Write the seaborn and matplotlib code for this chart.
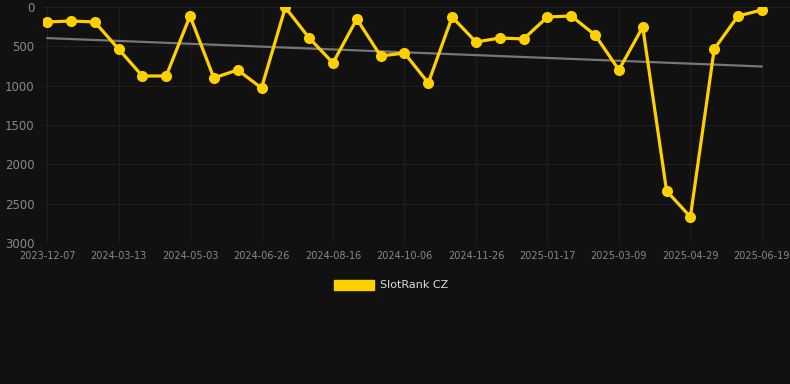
import numpy as np
import pandas as pd
import matplotlib
matplotlib.use("Agg")
import matplotlib.pyplot as plt
import seaborn as sns
from matplotlib.patches import Patch

# Data
tick_labels = ["2023-12-07", "2024-03-13", "2024-05-03", "2024-06-26", "2024-08-16",
               "2024-10-06", "2024-11-26", "2025-01-17", "2025-03-09", "2025-04-29",
               "2025-06-19"]
ranks = [190, 178, 190, 534, 877, 877, 114, 902, 800, 1030,
         5, 394, 711, 152, 623, 585, 966, 127, 445, 394,
         406, 127, 114, 356, 800, 254, 2338, 2668, 534, 114, 38]
series_name = "SlotRank CZ"

idx = np.arange(len(ranks))
df = pd.DataFrame({"idx": idx, "rank": ranks})

bg = "#111111"
yellow = "#FFD000"

sns.set_theme(style="dark")
plt.rcParams["font.family"] = ["DejaVu Sans"]

fig = plt.figure(figsize=(7.9, 3.84), dpi=100, facecolor=bg)
ax = fig.add_axes([43 / 790, 1 - 243 / 384, (790 - 43) / 790, (243 - 7) / 384])
ax.set_facecolor(bg)

# trend line
coef = np.polyfit(idx, ranks, 1)
trend = np.polyval(coef, idx)
sns.lineplot(x=idx, y=trend, ax=ax, color="#777777", linewidth=1.6, zorder=2)

sns.lineplot(data=df, x="idx", y="rank", ax=ax, color=yellow, linewidth=2.3,
             marker="o", markersize=8, markeredgewidth=0, zorder=3)

ax.set_ylim(3000, 0)
ax.set_xlim(-0.17, 31.18)
ax.set_yticks([0, 500, 1000, 1500, 2000, 2500, 3000])
ax.set_xticks(idx[::3])
ax.set_xticklabels(tick_labels)
ax.tick_params(axis="y", colors="#888888", labelsize=8.5, length=0, pad=6)
ax.tick_params(axis="x", colors="#888888", labelsize=7, length=0, pad=6)
ax.grid(True, color="#1f1f1f", linewidth=0.8)
ax.set_axisbelow(True)
for s in ax.spines.values():
    s.set_visible(False)
ax.set_xlabel("")
ax.set_ylabel("")

handle = Patch(facecolor=yellow, edgecolor=yellow, label=series_name)
fig.legend(handles=[handle], loc="center", bbox_to_anchor=(0.495, 1 - 285 / 384),
           frameon=False, fontsize=8, labelcolor="#dddddd",
           handlelength=3.6, handleheight=1.0, handletextpad=0.55)

fig.savefig("out.png", dpi=100, facecolor=bg)
